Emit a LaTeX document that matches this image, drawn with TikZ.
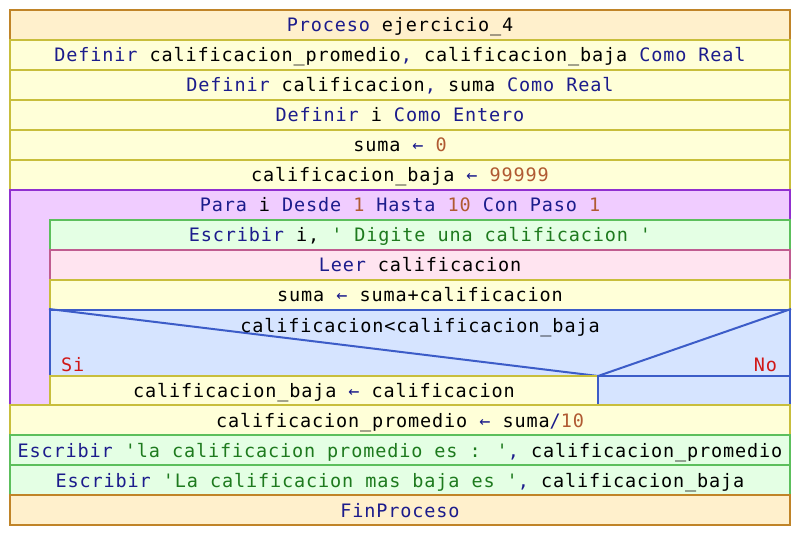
\documentclass[tikz,border=0pt]{standalone}
\usepackage{fontspec}
\newfontfamily\codefont[LetterSpace=4.7]{DejaVu Sans Mono}

\definecolor{procfill}{HTML}{FFF0CC}
\definecolor{procline}{HTML}{C08428}
\definecolor{asgfill}{HTML}{FFFFD8}
\definecolor{asgline}{HTML}{C8BE3C}
\definecolor{loopfill}{HTML}{F0CCFF}
\definecolor{loopline}{HTML}{9030D0}
\definecolor{outfill}{HTML}{E4FFE4}
\definecolor{outline}{HTML}{5CBF5C}
\definecolor{infill}{HTML}{FFE4F0}
\definecolor{inline}{HTML}{C05C90}
\definecolor{condfill}{HTML}{D6E4FF}
\definecolor{condline}{HTML}{3C5CC8}
\definecolor{kwblue}{HTML}{1C1C8C}
\definecolor{numred}{HTML}{B05A32}
\definecolor{strgreen}{HTML}{1E7A1E}
\definecolor{sired}{HTML}{D01818}

\newcommand{\kw}[1]{\textcolor{kwblue}{#1}}
\newcommand{\nv}[1]{\textcolor{numred}{#1}}
\newcommand{\sv}[1]{\textcolor{strgreen}{#1}}
\newcommand{\asg}{\kw{←}}

\begin{document}
\begin{tikzpicture}[x=1bp, y=-1bp, line width=2bp,
    txt/.style={inner sep=0pt, text height=14bp, text depth=0pt,
      font=\codefont\fontsize{18.5bp}{22bp}\selectfont},
    cell/.style={txt, draw, minimum height=30bp},
    row/.style={minimum width=780bp},
    inrow/.style={minimum width=740bp},
    procbox/.style={cell, row, fill=procfill, draw=procline},
    asgbox/.style={cell, fill=asgfill, draw=asgline},
    outbox/.style={cell, fill=outfill, draw=outline},
    inbox/.style={cell, inrow, fill=infill, draw=inline}]
    \useasboundingbox[fill=white] (0, 0) rectangle (800, 536);
    \node[procbox] (inicio) at (400, 25) {\kw{Proceso} ejercicio\_4}; % process header
    \node[asgbox, row] (def1) at (400, 55) {\kw{Definir} calificacion\_promedio\kw{,} calificacion\_baja \kw{Como Real}};
    \node[asgbox, row] (def2) at (400, 85) {\kw{Definir} calificacion\kw{,} suma \kw{Como Real}};
    \node[asgbox, row] (def3) at (400, 115) {\kw{Definir} i \kw{Como Entero}};
    \node[asgbox, row] (suma0) at (400, 145) {suma \asg{} \nv{0}};
    \node[asgbox, row] (baja0) at (400, 175) {calificacion\_baja \asg{} \nv{99999}};
    \draw[draw=loopline, fill=loopfill] (10, 190) rectangle (790, 405); % loop body
    \node[txt] (para) at (400, 205) {\kw{Para} i \kw{Desde} \nv{1} \kw{Hasta} \nv{10} \kw{Con Paso} \nv{1}}; % loop header
    \node[outbox, inrow] (pedir) at (420, 235) {\kw{Escribir} i, \sv{' Digite una calificacion '}};
    \node[inbox] (leer) at (420, 265) {\kw{Leer} calificacion};
    \node[asgbox, inrow] (acum) at (420, 295) {suma \asg{} suma+calificacion};
    \node[draw=condline, fill=condfill, minimum width=740bp, minimum height=66bp, inner sep=0pt] (cond) at (420, 343) {}; % condition box
    \coordinate (split) at (598, 376);
    \draw[condline] (cond.north west) -- (split) -- (cond.north east); % condition triangle
    \node[txt] (condtxt) at (420, 325) {calificacion<calificacion\_baja};
    \node[txt, anchor=base west, text=sired] (si) at (60, 371) {Si};
    \node[txt, anchor=base east, text=sired] (no) at (778, 371) {No};
    \node[asgbox, minimum width=548bp, minimum height=29bp] (nueva) at (324, 390.5) {calificacion\_baja \asg{} calificacion}; % then branch
    \node[draw=condline, fill=condfill, minimum width=192bp, minimum height=29bp, inner sep=0pt] (vacio) at (694, 390.5) {}; % else branch
    \node[asgbox, row] (prom) at (400, 420) {calificacion\_promedio \asg{} suma\kw{/}\nv{10}};
    \node[outbox, row] (msg1) at (400, 450) {\kw{Escribir} \sv{'la calificacion promedio es : '}\kw{,} calificacion\_promedio};
    \node[outbox, row] (msg2) at (400, 480) {\kw{Escribir} \sv{'La calificacion mas baja es '}\kw{,} calificacion\_baja};
    \node[procbox] (fin) at (400, 510) {\kw{FinProceso}}; % process end
\end{tikzpicture}
\end{document}
